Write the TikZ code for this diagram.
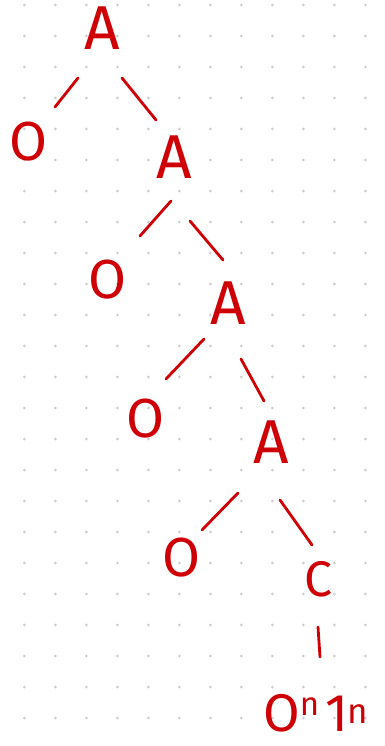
\documentclass[tikz,border=0pt]{standalone}
\usepackage{fontspec}
\newfontfamily\hand{Fira Sans}
\usetikzlibrary{calc}
\definecolor{ink}{RGB}{206,0,6}
\definecolor{dotc}{RGB}{205,205,205}
\tikzset{
  sym/.style={text=ink, inner sep=0pt, font=\hand\fontsize{62}{62}\selectfont},
  zero/.style={sym, font=\hand\fontsize{55}{55}\selectfont},
  edge/.style={draw=ink, line width=2.8pt, line cap=round}
}
\begin{document}
\begin{tikzpicture}[x=1pt,y=-1pt]
\useasboundingbox (0,0) rectangle (384,746);
\fill[white] (0,0) rectangle (384,746);
\foreach \i in {0,...,11}{\foreach \j in {0,...,23}{\fill[dotc] (24.3+31*\i,5+31*\j) circle (1.5pt);}}
\node[sym]  (A1) at (102,28) {A};
\node[zero] (O1) at (29,142) {O};
\node[sym]  (A2) at (174,157) {A};
\node[zero] (O2) at (108,280) {O};
\node[sym]  (A3) at (228,303) {A};
\node[zero] (O3) at (146,419) {O};
\node[sym]  (A4) at (271,442) {A};
\node[zero] (O4) at (182,558) {O};
\node[sym, font=\hand\fontsize{50}{50}\selectfont] (C) at (318,579) {C};
\node[zero, anchor=base west, font=\hand\fontsize{53}{53}\selectfont] (W) at (263,731) {O\raisebox{16pt}{\fontsize{33}{33}\selectfont n}\kern6pt 1\kern-1pt\raisebox{8pt}{\fontsize{35}{35}\selectfont n}};
\path[edge] ($(A1)+(-24,50)$) -- ($(O1)+(26,-35)$);
\path[edge] ($(A1)+(20,50)$) -- ($(A2)+(-18,-37)$);
\path[edge] ($(A2)+(-3,44)$) -- ($(O2)+(32,-44)$);
\path[edge] ($(A2)+(16,64)$) -- ($(A3)+(-5,-43)$);
\path[edge] ($(A3)+(-24,36)$) -- ($(O3)+(20,-40)$);
\path[edge] ($(A3)+(13,56)$) -- ($(A4)+(-7,-41)$);
\path[edge] ($(A4)+(-33,51)$) -- ($(O4)+(20,-28)$);
\path[edge] ($(A4)+(9,58)$) -- ($(C)+(-6,-34)$);
\path[edge] ($(C)+(0,48)$) -- ($(C)+(2,78)$);
\end{tikzpicture}
\end{document}
